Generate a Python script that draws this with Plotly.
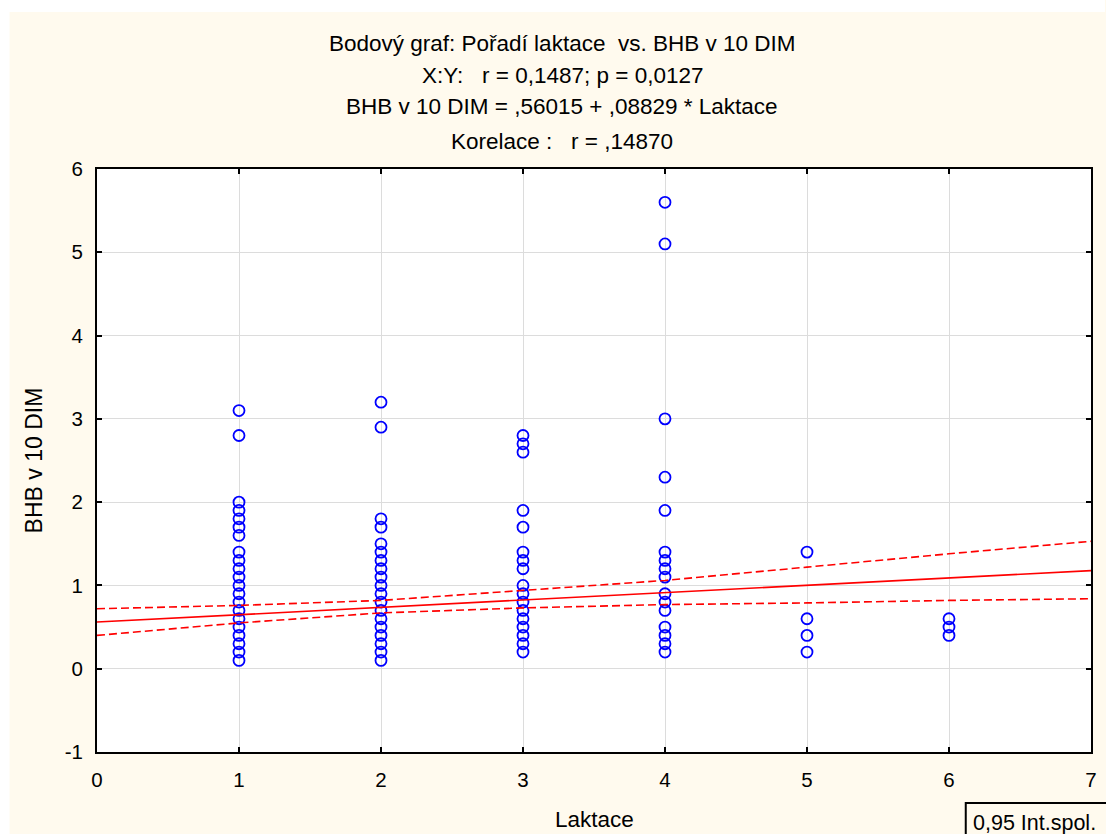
import plotly.graph_objects as go

# BHB values (mmol/l) at day 10 in milk, grouped by lactation number
bhb_l1 = [0.1, 0.2, 0.3, 0.4, 0.5, 0.6, 0.7, 0.8, 0.9, 1.0, 1.1, 1.2, 1.3, 1.4,
          1.6, 1.7, 1.8, 1.9, 2.0, 2.8, 3.1]
bhb_l2 = [0.1, 0.2, 0.3, 0.4, 0.5, 0.6, 0.7, 0.8, 0.9, 1.0, 1.1, 1.2, 1.3, 1.4,
          1.5, 1.7, 1.8, 2.9, 3.2]
bhb_l3 = [0.2, 0.3, 0.4, 0.5, 0.6, 0.7, 0.8, 0.9, 1.0, 1.2, 1.3, 1.4, 1.7, 1.9,
          2.6, 2.7, 2.8]
bhb_l4 = [0.2, 0.3, 0.4, 0.5, 0.7, 0.8, 0.9, 1.1, 1.2, 1.3, 1.4, 1.9, 2.3, 3.0,
          5.1, 5.6]
bhb_l5 = [0.2, 0.4, 0.6, 1.4]
bhb_l6 = [0.4, 0.5, 0.6]
groups = [1, 2, 3, 4, 5, 6]

# Regression line coefficients
intercept = 0.56015
slope = 0.08829
line_x = [0, 7]

# 95 % confidence band of the regression line
band_x = [0, 1, 2, 3, 4, 5, 6, 7]
band_upper = [0.72, 0.76, 0.82, 0.94, 1.06, 1.22, 1.38, 1.53]
band_lower = [0.40, 0.55, 0.67, 0.73, 0.77, 0.79, 0.82, 0.84]

x_ticks = [0, 1, 2, 3, 4, 5, 6, 7]
y_ticks = [-1, 0, 1, 2, 3, 4, 5, 6]
y_tick_labels = ["-1", "0", "1", "2", "3", "4", "5", "6"]

title_lines = [
    "Bodový graf: Pořadí laktace\u00a0 vs. BHB v 10 DIM",
    "X:Y:\u00a0\u00a0 r = 0,1487; p = 0,0127",
    "BHB v 10 DIM = ,56015 + ,08829 * Laktace",
    "Korelace :\u00a0\u00a0 r = ,14870",
]

FONT = "Liberation Sans, Arial, sans-serif"
CREAM = "#FFFAEE"

# page geometry (pixels)
W, H = 1106, 834
ML, MR, MT, MB = 97, 9, 169, 82
PW, PH = W - ML - MR, H - MT - MB


def px(xp):
    return (xp - ML) / PW


def py(yp):
    return (H - MB - yp) / PH


all_bhb = [bhb_l1, bhb_l2, bhb_l3, bhb_l4, bhb_l5, bhb_l6]
pts_x, pts_y = [], []
for g, vals in zip(groups, all_bhb):
    pts_x += [g] * len(vals)
    pts_y += vals

fig = go.Figure()

fig.add_trace(go.Scatter(
    x=pts_x, y=pts_y, mode="markers",
    marker=dict(symbol="circle-open", size=11, color="#0000FF",
                line=dict(width=1.8, color="#0000FF")),
    showlegend=False, hoverinfo="x+y",
))

fig.add_trace(go.Scatter(
    x=line_x, y=[intercept + slope * v for v in line_x], mode="lines",
    line=dict(color="#FF0000", width=1.6), showlegend=False,
))
for band in (band_upper, band_lower):
    fig.add_trace(go.Scatter(
        x=band_x, y=band, mode="lines",
        line=dict(color="#FF0000", width=1.6, dash="8px,4px"),
        showlegend=False,
    ))

annotations = []
for ypos, txt in zip([44, 75, 106, 141], title_lines):
    annotations.append(dict(
        text=txt, x=px(565), y=py(ypos), xref="paper", yref="paper",
        xanchor="center", yanchor="middle", showarrow=False,
        font=dict(family=FONT, size=22.5, color="#000000"),
    ))
annotations.append(dict(
    text="Laktace", x=px(597), y=py(819), xref="paper", yref="paper",
    xanchor="center", yanchor="middle", showarrow=False,
    font=dict(family=FONT, size=22.5, color="#000000"),
))
annotations.append(dict(
    text="BHB v 10 DIM", x=px(34), y=py(460), xref="paper", yref="paper",
    xanchor="center", yanchor="middle", showarrow=False, textangle=-90,
    font=dict(family=FONT, size=23, color="#000000"),
))
annotations.append(dict(
    text="0,95 Int.spol.", x=px(976), y=py(823), xref="paper", yref="paper",
    xanchor="left", yanchor="middle", showarrow=False,
    font=dict(family=FONT, size=21.5, color="#000000"),
))

shapes = [
    # white strips around the cream page
    dict(type="rect", xref="paper", yref="paper", x0=px(-5), x1=px(W + 5),
         y0=py(-5), y1=py(12), fillcolor="white", line=dict(width=0),
         layer="below"),
    dict(type="rect", xref="paper", yref="paper", x0=px(-5), x1=px(9),
         y0=py(H + 5), y1=py(-5), fillcolor="white", line=dict(width=0),
         layer="below"),
    # legend frame for the confidence band
    dict(type="rect", xref="paper", yref="paper", x0=px(971), x1=px(W + 20),
         y0=py(803), y1=py(H + 20), fillcolor=CREAM,
         line=dict(color="#000000", width=2)),
]

axis_common = dict(
    showline=True, linecolor="#000000", linewidth=2, mirror="ticks",
    ticks="inside", ticklen=5, tickwidth=1.5, tickcolor="#000000",
    showgrid=True, gridcolor="#DCDCDC", gridwidth=1, zeroline=False,
    tickfont=dict(family=FONT, size=20.5, color="#000000"),
)

fig.update_layout(
    width=W, height=H,
    margin=dict(l=ML, r=MR, t=MT, b=MB, pad=0),
    paper_bgcolor=CREAM, plot_bgcolor="white",
    xaxis=dict(range=[0, 7], tickvals=x_ticks, ticklabelstandoff=8,
               **axis_common),
    yaxis=dict(range=[-1, 6], tickvals=y_ticks, ticktext=y_tick_labels,
               ticklabelstandoff=8, **axis_common),
    annotations=annotations, shapes=shapes, showlegend=False,
)

fig.write_html("out.html")
